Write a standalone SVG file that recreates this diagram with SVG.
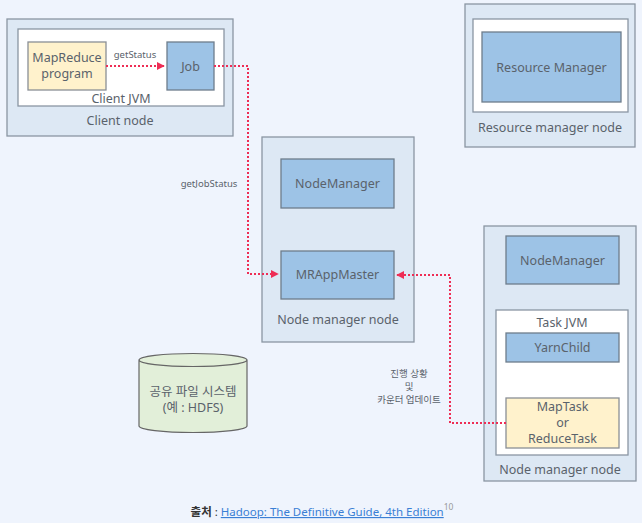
<svg xmlns="http://www.w3.org/2000/svg" width="642" height="523" viewBox="0 0 642 523">
<style>
text{font-family:"Noto Sans","Noto Sans CJK KR",sans-serif;fill:#5a626b;text-anchor:middle}
.t{font-size:12.5px}
.s{font-size:9.5px}
.node{fill:#dde8f4;stroke:#8a96a3;stroke-width:1.3}
.jvm{fill:#ffffff;stroke:#8a96a3;stroke-width:1.3}
.blue{fill:#9dc3e6;stroke:#6e7d8c;stroke-width:1.3}
.yel{fill:#fff2cc;stroke:#8a8f96;stroke-width:1.3}
.con{fill:none;stroke:#ee2d55;stroke-width:2;stroke-dasharray:2 2}
</style>
<defs>
<marker id="ah" viewBox="0 0 10 10" refX="9" refY="5" markerWidth="4" markerHeight="4" orient="auto">
<path d="M0,0 L10,5 L0,10 z" fill="#ee2d55"/>
</marker>
</defs>
<rect width="642" height="523" fill="#eff4fd"/>
<g id="client-node">
<rect class="node" x="7" y="19" width="226" height="117"/>
<rect class="jvm" x="18" y="29" width="206" height="77"/>
<text class="t" x="121" y="103">Client JVM</text>
<text class="t" x="120" y="125">Client node</text>
</g>
<g id="mapreduce-program">
<rect class="yel" x="28" y="42" width="78" height="48"/>
<text class="t" x="67" y="62">MapReduce</text>
<text class="t" x="67" y="78">program</text>
</g>
<g id="job">
<rect class="blue" x="167" y="42" width="47" height="48"/>
<text class="t" x="190.5" y="71">Job</text>
</g>
<g id="resource-manager-node">
<rect class="node" x="465" y="4" width="170" height="143"/>
<rect class="jvm" x="473" y="19" width="155" height="93"/>
<rect class="blue" x="482" y="32" width="139" height="70"/>
<text class="t" x="551.5" y="72">Resource Manager</text>
<text class="t" x="550" y="132">Resource manager node</text>
</g>
<g id="node-manager-node-1">
<rect class="node" x="262" y="137" width="152" height="205"/>
<text class="t" x="338" y="324">Node manager node</text>
</g>
<g id="nodemanager-1">
<rect class="blue" x="281" y="159" width="113" height="49"/>
<text class="t" x="337.5" y="188">NodeManager</text>
</g>
<g id="mrappmaster">
<rect class="blue" x="281" y="251" width="113" height="48"/>
<text class="t" x="337.5" y="279">MRAppMaster</text>
</g>
<g id="node-manager-node-2">
<rect class="node" x="484" y="226" width="152" height="255"/>
<rect class="jvm" x="496" y="310" width="132" height="145"/>
<text class="t" x="562" y="327">Task JVM</text>
<text class="t" x="560" y="474">Node manager node</text>
</g>
<g id="nodemanager-2">
<rect class="blue" x="506" y="236" width="113" height="48"/>
<text class="t" x="562.5" y="265">NodeManager</text>
</g>
<g id="yarnchild">
<rect class="blue" x="506" y="333" width="113" height="29"/>
<text class="t" x="562.5" y="352">YarnChild</text>
</g>
<g id="maptask">
<rect class="yel" x="506" y="398" width="113" height="50"/>
<text class="t" x="562.5" y="411">MapTask</text>
<text class="t" x="562.5" y="427">or</text>
<text class="t" x="562.5" y="443">ReduceTask</text>
</g>
<g id="hdfs">
<path d="M139,360 L139,426 A54,6.5 0 0 0 247,426 L247,360 A54,6.5 0 0 0 139,360 A54,6.5 0 0 0 247,360" fill="#e2efd9" stroke="#666" stroke-width="1.2"/>
<text class="t" x="193" y="396">공유 파일 시스템</text>
<text class="t" x="193" y="412">(예 : HDFS)</text>
</g>
<g id="connectors">
<path class="con" d="M106,66 L164,66" marker-end="url(#ah)"/>
<text class="s" x="135" y="58">getStatus</text>
<path class="con" d="M214,66 L248,66 L248,274 L278,274" marker-end="url(#ah)"/>
<text class="s" x="209" y="187">getJobStatus</text>
<path class="con" d="M506,423 L450,423 L450,275 L397,275" marker-end="url(#ah)"/>
<text class="s" x="409" y="377">진행 상황</text>
<text class="s" x="409" y="390">및</text>
<text class="s" x="409" y="403">카운터 업데이트</text>
</g>
<g id="footer">
<text x="322" y="516" style="font-size:11.5px;fill:#333"><tspan style="font-weight:bold">출처</tspan> : <tspan style="fill:#3a7fd5;text-decoration:underline">Hadoop: The Definitive Guide, 4th Edition</tspan><tspan dy="-6" style="font-size:8.5px;fill:#999">10</tspan></text>
</g>
</svg>
